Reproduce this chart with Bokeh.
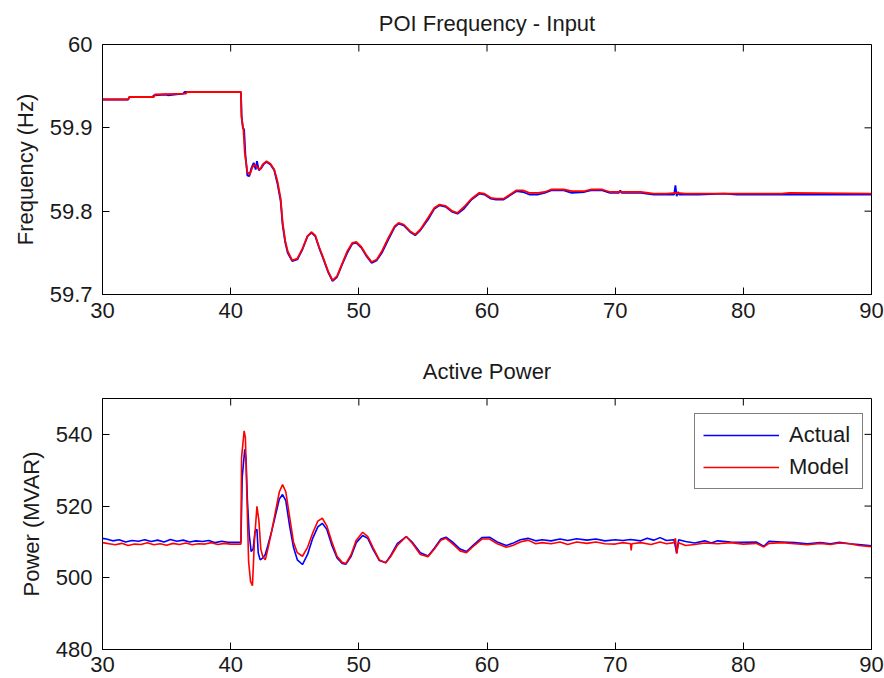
import math
from bokeh.plotting import figure
from bokeh.layouts import column
from bokeh.models import Range1d, FixedTicker, Legend, LegendItem
from bokeh.embed import file_html
from bokeh.resources import INLINE

FONT = "Liberation Sans"
TXT = "#1a1a1a"

x_ticks = [30, 40, 50, 60, 70, 80, 90]
x_tick_labels = ["30", "40", "50", "60", "70", "80", "90"]
freq_ticks = [59.7, 59.8, 59.9, 60.0]
freq_tick_labels = ["59.7", "59.8", "59.9", "60"]
power_ticks = [480, 500, 520, 540]
power_tick_labels = ["480", "500", "520", "540"]

# ---- POI frequency (Hz) ----
freq_model_t = [30.0, 32.0, 32.1, 34.0, 34.1, 36.5, 36.6, 40.8, 40.85, 41.0, 41.1, 41.3, 41.5, 41.7,
                41.9, 42.1, 42.3, 42.5, 42.8, 43.1, 43.4, 43.65, 43.9, 44.05, 44.25, 44.45, 44.8, 45.2,
                45.6, 46.0, 46.3, 46.6, 46.9, 47.2, 47.6, 47.95, 48.3, 48.7, 49.1, 49.5, 49.8, 50.2,
                50.6, 51.0, 51.4, 51.8, 52.3, 52.8, 53.1, 53.5, 54.0, 54.4, 54.8, 55.4, 55.9, 56.3,
                56.8, 57.3, 57.7, 58.2, 58.8, 59.4, 59.8, 60.3, 60.7, 61.3, 61.8, 62.3, 62.8, 63.3,
                64.0, 64.5, 65.0, 66.0, 66.6, 67.6, 68.1, 69.0, 69.6, 72.0, 73.0, 74.0, 74.8, 75.5,
                83.0, 83.6, 90.0]
freq_model = [59.934, 59.934, 59.937, 59.937, 59.940, 59.941, 59.943, 59.943, 59.912, 59.897, 59.870,
              59.847, 59.844, 59.853, 59.856, 59.852, 59.850, 59.856, 59.860, 59.857, 59.850, 59.836,
              59.815, 59.787, 59.765, 59.752, 59.741, 59.743, 59.755, 59.770, 59.775, 59.771, 59.757,
              59.745, 59.728, 59.717, 59.722, 59.737, 59.752, 59.762, 59.763, 59.757, 59.747, 59.739,
              59.742, 59.752, 59.768, 59.782, 59.786, 59.784, 59.776, 59.772, 59.778, 59.792, 59.804,
              59.808, 59.806, 59.800, 59.798, 59.805, 59.815, 59.822, 59.821, 59.816, 59.815, 59.815,
              59.820, 59.825, 59.825, 59.822, 59.822, 59.823, 59.826, 59.826, 59.824, 59.824, 59.826,
              59.826, 59.823, 59.823, 59.821, 59.821, 59.822, 59.821, 59.821, 59.822, 59.821]

freq_actual_t = [30.0, 32.0, 32.1, 33.9, 34.0, 35.0, 35.1, 36.3, 36.4, 40.8, 40.85, 40.95, 41.05, 41.15,
                 41.3, 41.45, 41.6, 41.8, 41.95, 42.05, 42.2, 42.4, 42.6, 42.8, 43.1, 43.4, 43.65, 43.9,
                 44.05, 44.25, 44.45, 44.8, 45.2, 45.6, 46.0, 46.3, 46.6, 46.9, 47.2, 47.6, 47.95, 48.3,
                 48.7, 49.1, 49.5, 49.8, 50.2, 50.6, 51.0, 51.4, 51.8, 52.3, 52.8, 53.1, 53.5, 54.0,
                 54.4, 54.8, 55.4, 55.9, 56.3, 56.8, 57.3, 57.7, 58.2, 58.8, 59.4, 59.8, 60.3, 60.7,
                 61.3, 61.8, 62.3, 62.8, 63.3, 64.0, 64.5, 65.0, 66.0, 66.6, 67.6, 68.1, 69.0, 69.6,
                 70.3, 70.4, 70.5, 72.0, 73.0, 74.6, 74.7, 74.8, 74.9, 75.0, 76.5, 78.5, 79.5, 90.0]
freq_actual = [59.934, 59.934, 59.937, 59.937, 59.939, 59.940, 59.939, 59.941, 59.943, 59.943, 59.915,
               59.900, 59.898, 59.868, 59.843, 59.842, 59.851, 59.858, 59.850, 59.860, 59.849, 59.852,
               59.857, 59.859, 59.856, 59.849, 59.833, 59.812, 59.784, 59.763, 59.750, 59.740, 59.742,
               59.754, 59.770, 59.774, 59.770, 59.756, 59.744, 59.727, 59.716, 59.721, 59.736, 59.750,
               59.761, 59.762, 59.756, 59.746, 59.738, 59.741, 59.750, 59.766, 59.781, 59.785, 59.783,
               59.775, 59.771, 59.777, 59.790, 59.803, 59.807, 59.805, 59.799, 59.797, 59.803, 59.814,
               59.821, 59.820, 59.815, 59.814, 59.814, 59.819, 59.824, 59.823, 59.820, 59.820, 59.822,
               59.825, 59.825, 59.822, 59.823, 59.825, 59.825, 59.822, 59.822, 59.825, 59.822, 59.822,
               59.820, 59.820, 59.831, 59.818, 59.823, 59.820, 59.820, 59.821, 59.820, 59.820]

# ---- Active power (MVAR) ----
power_model_t = [30.0, 30.5, 31.0, 31.5, 32.0, 32.5, 33.0, 33.5, 34.0, 34.5, 35.0, 35.5, 36.0, 36.5,
                 37.0, 37.5, 38.0, 38.5, 39.0, 39.5, 40.0, 40.8, 40.85, 41.05, 41.15, 41.25, 41.4, 41.55,
                 41.7, 41.85, 42.05, 42.2, 42.35, 42.5, 42.7, 42.9, 43.2, 43.5, 43.8, 44.05, 44.3, 44.6,
                 44.9, 45.2, 45.6, 46.0, 46.4, 46.8, 47.15, 47.5, 47.9, 48.3, 48.7, 49.0, 49.4, 49.8,
                 50.3, 50.7, 51.1, 51.6, 52.1, 52.5, 53.0, 53.7, 54.2, 54.8, 55.4, 55.9, 56.4, 56.8,
                 57.3, 57.9, 58.4, 59.0, 59.6, 60.2, 60.8, 61.5, 62.0, 62.6, 63.2, 63.8, 64.3, 65.0,
                 65.7, 66.3, 67.0, 67.8, 68.5, 69.2, 70.0, 70.6, 71.2, 71.25, 71.3, 72.0, 72.8, 73.5,
                 74.0, 74.6, 74.7, 74.8, 74.95, 75.5, 76.2, 77.0, 78.0, 79.0, 80.0, 81.0, 81.6, 82.0,
                 83.0, 84.0, 85.0, 86.0, 86.8, 87.5, 88.3, 89.0, 90.0]
power_model = [509.8, 509.5, 509.2, 509.6, 509.0, 509.4, 509.3, 509.8, 509.2, 509.5, 509.1, 509.6,
               509.3, 509.7, 509.2, 509.5, 509.4, 509.8, 509.3, 509.6, 509.4, 509.4, 533.5, 541.0,
               539.0, 525.0, 504.5, 499.0, 497.8, 510.0, 519.9, 516.0, 508.0, 506.0, 505.0, 508.0,
               513.0, 518.5, 524.0, 526.0, 524.0, 517.0, 510.0, 507.0, 506.0, 508.5, 512.5, 515.8,
               516.6, 514.5, 510.0, 506.0, 504.3, 504.0, 506.5, 510.5, 512.7, 511.5, 508.5, 505.0,
               504.2, 506.0, 509.0, 511.5, 509.5, 506.5, 505.9, 508.0, 510.5, 511.0, 509.5, 507.5,
               507.0, 509.0, 510.8, 510.8, 509.5, 508.5, 509.0, 510.0, 510.5, 509.5, 509.8, 509.5,
               510.0, 509.3, 510.0, 509.6, 510.0, 509.5, 509.4, 509.8, 509.5, 507.6, 509.5, 509.8,
               509.3, 510.0, 509.5, 509.8, 511.0, 506.8, 509.8, 509.0, 509.3, 509.7, 509.5, 509.8,
               509.4, 509.6, 508.6, 509.6, 509.8, 509.5, 509.2, 509.6, 509.3, 509.7, 509.5, 509.0,
               508.7]

power_actual_t = [30.0, 30.3, 30.8, 31.3, 31.8, 32.3, 32.8, 33.3, 33.8, 34.3, 34.8, 35.3, 35.8, 36.3,
                  36.8, 37.3, 37.8, 38.3, 38.8, 39.3, 39.8, 40.8, 40.9, 41.1, 41.2, 41.3, 41.45, 41.6,
                  41.75, 41.9, 42.05, 42.15, 42.3, 42.5, 42.7, 42.9, 43.2, 43.5, 43.8, 44.05, 44.3,
                  44.6, 44.9, 45.2, 45.6, 46.0, 46.4, 46.8, 47.15, 47.5, 47.9, 48.3, 48.7, 49.0, 49.4,
                  49.8, 50.3, 50.7, 51.1, 51.6, 52.1, 52.5, 53.0, 53.7, 54.2, 54.8, 55.4, 55.9, 56.4,
                  56.8, 57.3, 57.9, 58.4, 59.0, 59.6, 60.2, 60.8, 61.5, 62.0, 62.6, 63.2, 63.8, 64.3,
                  65.0, 65.7, 66.3, 67.0, 67.8, 68.5, 69.2, 70.0, 70.6, 71.2, 72.0, 72.5, 73.0, 73.5,
                  74.0, 74.6, 74.8, 74.95, 75.5, 76.2, 77.0, 77.5, 78.0, 79.0, 80.0, 81.0, 81.6, 82.0,
                  83.0, 84.0, 85.0, 86.0, 86.8, 87.5, 88.3, 89.0, 90.0]
power_actual = [511.0, 510.8, 510.3, 510.6, 510.0, 510.4, 510.2, 510.6, 510.1, 510.5, 510.0, 510.7,
                510.2, 510.5, 510.0, 510.3, 510.1, 510.4, 509.8, 510.2, 509.9, 509.9, 528.0, 535.8,
                533.0, 522.0, 512.0, 507.3, 508.0, 512.9, 513.5, 507.0, 505.0, 505.5, 506.5, 509.0,
                513.0, 517.5, 522.0, 523.2, 521.5, 514.5, 508.5, 505.0, 503.7, 506.5, 511.0, 514.2,
                515.2, 513.5, 509.0, 505.5, 504.0, 503.8, 506.0, 509.8, 511.8, 511.0, 508.0, 504.8,
                504.2, 506.3, 509.5, 511.5, 509.8, 507.0, 506.1, 508.3, 510.8, 511.3, 510.0, 508.0,
                507.3, 509.3, 511.2, 511.3, 510.0, 509.0, 509.6, 510.6, 511.0, 510.3, 510.6, 510.3,
                510.8, 510.4, 510.9, 510.5, 510.8, 510.3, 510.6, 510.4, 510.7, 510.3, 511.0, 510.5,
                511.2, 510.4, 510.6, 506.8, 510.6, 510.1, 509.7, 510.3, 509.7, 510.3, 510.0, 509.9,
                510.0, 508.8, 510.2, 510.0, 509.8, 509.5, 509.8, 509.5, 509.9, 509.5, 509.3, 508.9]

BLUE = "#0000ff"
RED = "#ff0000"
W = 884
X_RANGE = (30, 90)


def style_axis(ax, ticks, labels, label_standoff):
    ax.ticker = FixedTicker(ticks=ticks)
    ax.major_label_overrides = dict(zip(ticks, labels))
    ax.major_tick_in = 7
    ax.major_tick_out = 0
    ax.minor_tick_in = 0
    ax.minor_tick_out = 0
    ax.axis_line_color = "black"
    ax.major_tick_line_color = "black"
    ax.major_label_text_font = FONT
    ax.major_label_text_color = TXT
    ax.major_label_text_font_size = "22px"
    ax.major_label_standoff = label_standoff
    ax.axis_label_text_font = FONT
    ax.axis_label_text_font_size = "22px"
    ax.axis_label_text_font_style = "normal"
    ax.axis_label_text_color = TXT


def make_fig(height, top, bottom, title, yr, yticks, ylabels, ylab, xstand, tstand):
    p = figure(width=W, height=height, output_backend="svg", toolbar_location=None,
               x_range=Range1d(*X_RANGE), y_range=Range1d(*yr),
               min_border_left=102, min_border_right=13, min_border_top=top,
               min_border_bottom=bottom)
    p.title.text = title
    p.title.text_font = FONT
    p.title.text_font_size = "22px"
    p.title.text_font_style = "normal"
    p.title.text_color = TXT
    p.title.align = "center"
    p.title.standoff = tstand
    p.xgrid.visible = False
    p.ygrid.visible = False
    p.outline_line_color = "black"
    p.outline_line_alpha = 1
    p.outline_line_width = 1
    p.background_fill_color = "white"
    p.border_fill_color = "white"
    style_axis(p.xaxis[0], x_ticks, x_tick_labels, xstand)
    style_axis(p.yaxis[0], yticks, ylabels, 10)
    p.yaxis[0].axis_label = ylab
    p.yaxis[0].axis_label_standoff = 9
    # inward ticks on the top and right edges of the box (MATLAB style)
    p.ray(x=x_ticks, y=[yr[1]] * len(x_ticks), length=7, length_units="screen",
          angle=-math.pi / 2, line_color="black", line_width=1)
    p.ray(x=[X_RANGE[1]] * len(yticks), y=yticks, length=7, length_units="screen",
          angle=math.pi, line_color="black", line_width=1)
    return p


p1 = make_fig(340, 44, 46, "POI Frequency - Input", (59.7, 60.0), freq_ticks,
              freq_tick_labels, "Frequency (Hz)", 8, 17)
p1.line(freq_actual_t, freq_actual, line_color=BLUE, line_width=1.8)
p1.line(freq_model_t, freq_model, line_color=RED, line_width=1.8)

p2 = make_fig(338, 58, 29, "Active Power", (480, 550), power_ticks,
              power_tick_labels, "Power (MVAR)", 7, 30)
r_act = p2.line(power_actual_t, power_actual, line_color=BLUE, line_width=1.6)
r_mod = p2.line(power_model_t, power_model, line_color=RED, line_width=1.6)

legend = Legend(items=[LegendItem(label="Actual", renderers=[r_act]),
                       LegendItem(label="Model", renderers=[r_mod])],
                location=(592, 160))
legend.label_text_font = FONT
legend.label_text_font_size = "22px"
legend.label_text_color = TXT
legend.glyph_width = 76
legend.glyph_height = 26
legend.label_height = 26
legend.label_width = 65
legend.label_standoff = 10
legend.spacing = 6
legend.padding = 8
legend.margin = 0
legend.border_line_color = "black"
legend.border_line_width = 1
legend.background_fill_color = "white"
legend.background_fill_alpha = 1
p2.add_layout(legend, "center")

layout = column(p1, p2, spacing=0)
open("out.html", "w").write(file_html(layout, INLINE))
